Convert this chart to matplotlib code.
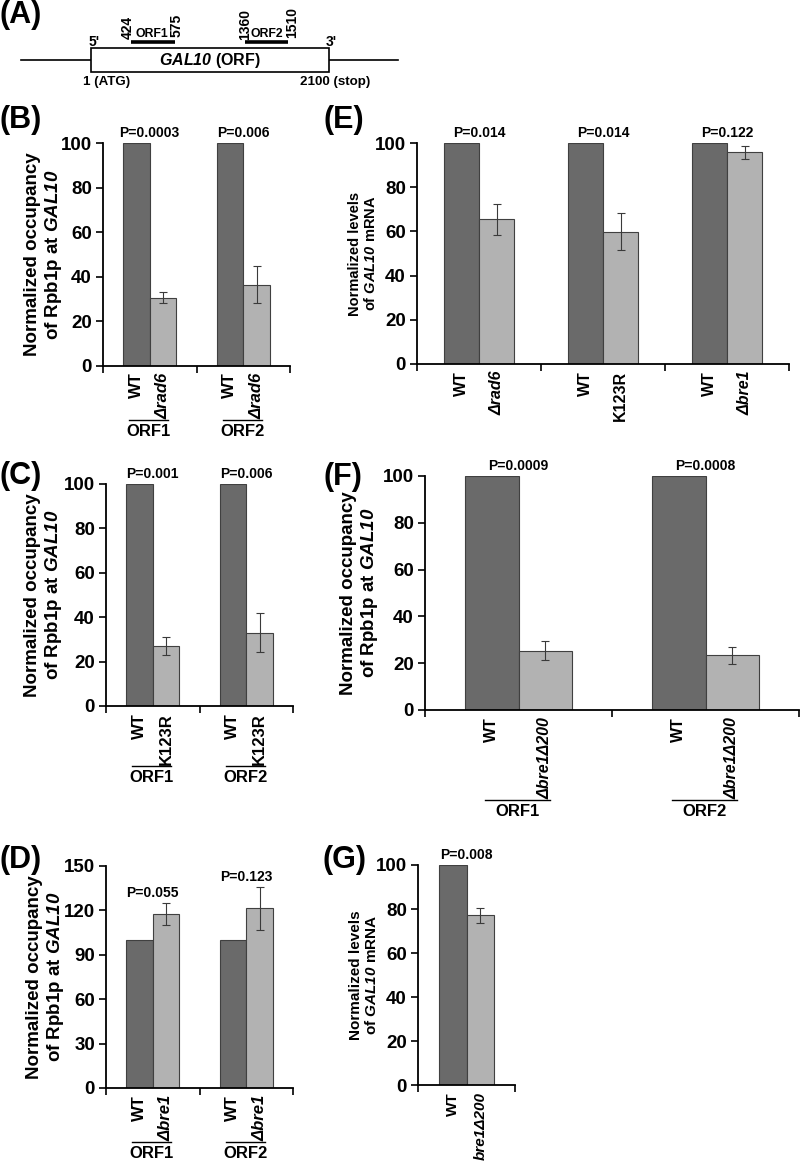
import matplotlib
matplotlib.use('Agg')
import matplotlib.pyplot as plt
from matplotlib.transforms import blended_transform_factory, ScaledTranslation
from matplotlib.patches import Rectangle
from matplotlib.lines import Line2D

plt.rcParams['font.family'] = ['Liberation Sans', 'DejaVu Sans']
plt.rcParams['font.weight'] = 'bold'
plt.rcParams['mathtext.fontset'] = 'custom'
plt.rcParams['mathtext.rm'] = 'Liberation Sans:bold'
plt.rcParams['mathtext.it'] = 'Liberation Sans:italic:bold'
plt.rcParams['mathtext.sf'] = 'Liberation Sans:italic:bold'
plt.rcParams['mathtext.bf'] = 'Liberation Sans:bold'

# ---------------- data ----------------
# Panel B
b_groups = ['ORF1', 'ORF2']
b_wt = [100, 100]
b_mut = [30.4, 36.2]
b_err = [2.5, 8.3]
b_p = ['P=0.0003', 'P=0.006']
b_ticklabels = [['WT', 'Δrad6'], ['WT', 'Δrad6']]
# Panel C
c_groups = ['ORF1', 'ORF2']
c_wt = [100, 100]
c_mut = [27.0, 33.1]
c_err = [4.2, 8.7]
c_p = ['P=0.001', 'P=0.006']
c_ticklabels = [['WT', 'K123R'], ['WT', 'K123R']]
# Panel D
d_groups = ['ORF1', 'ORF2']
d_wt = [100, 100]
d_mut = [117.5, 121.3]
d_err = [7.6, 14.3]
d_p = ['P=0.055', 'P=0.123']
d_ticklabels = [['WT', 'Δbre1'], ['WT', 'Δbre1']]
# Panel E
e_wt = [100, 100, 100]
e_mut = [65.5, 59.8, 95.8]
e_err = [7.0, 8.4, 2.9]
e_p = ['P=0.014', 'P=0.014', 'P=0.122']
e_ticklabels = [['WT', 'Δrad6'], ['WT', 'K123R'], ['WT', 'Δbre1']]
# Panel F
f_groups = ['ORF1', 'ORF2']
f_wt = [100, 100]
f_mut = [25.4, 23.3]
f_err = [4.1, 3.8]
f_p = ['P=0.0009', 'P=0.0008']
f_ticklabels = [['WT', 'Δbre1Δ200'], ['WT', 'Δbre1Δ200']]
# Panel G
g_wt = [100]
g_mut = [77.1]
g_err = [3.5]
g_p = ['P=0.008']
g_ticklabels = [['WT', 'bre1Δ200']]

ylabel_occ = 'Normalized occupancy\nof Rpb1p at $\\mathsf{GAL10}$'
ylabel_mrna = 'Normalized levels\nof $\\mathsf{GAL10}$ mRNA'

# ---------------- figure ----------------
W, H, DPI = 800, 1162, 100
fig = plt.figure(figsize=(W / DPI, H / DPI), dpi=DPI)

WT_COLOR = '#6a6a6a'
MUT_COLOR = '#b2b2b2'
EDGE = '#404040'
BW = 0.285

group_jobs = []


def add_ax(l, t, r, b):
    return fig.add_axes([l / W, 1 - b / H, (r - l) / W, (b - t) / H])


def panel(box, wt, mut, err, pvals, ticklabels, ymax, ystep, ylabel, ylab_x, ylab_size,
          xlab_size=12, groups=None):
    l, t, r, b = box
    ax = add_ax(l, t, r, b)
    n = len(wt)
    gpx = (r - l) / n
    xs = list(range(n))
    xw = [x - BW / 2 for x in xs]
    xm = [x + BW / 2 for x in xs]
    ax.bar(xw, wt, width=BW, color=WT_COLOR, edgecolor=EDGE, linewidth=0.8, zorder=2)
    ax.bar(xm, mut, width=BW, color=MUT_COLOR, edgecolor=EDGE, linewidth=0.8, zorder=2)
    ax.errorbar(xm, mut, yerr=err, fmt='none', ecolor='#3a3a3a', elinewidth=0.8,
                capsize=3, capthick=0.8, zorder=3)
    ax.set_xlim(-0.5, n - 0.5)
    ax.set_ylim(0, ymax)
    ax.set_yticks(list(range(0, ymax + 1, ystep)))
    for s in ['top', 'right']:
        ax.spines[s].set_visible(False)
    for s in ['left', 'bottom']:
        ax.spines[s].set_linewidth(1.3)
    ax.tick_params(axis='y', direction='out', length=5, width=1.2, labelsize=13.5, pad=3)
    pos, labs, ital = [], [], []
    for i in xs:
        pos += [xw[i], xm[i]]
        labs += ticklabels[i]
        ital += [False, ticklabels[i][1] != 'K123R']
    ax.set_xticks(pos)
    ax.set_xticklabels(labs, rotation=90, fontsize=xlab_size, fontweight='bold')
    for tl, it in zip(ax.get_xticklabels(), ital):
        if it:
            tl.set_fontstyle('italic')
    ax.tick_params(axis='x', which='major', length=0, pad=5)
    ax.set_xticks([x - 0.5 for x in range(n + 1)], minor=True)
    ax.tick_params(axis='x', which='minor', direction='out', length=5, width=1.2)
    for i in xs:
        top = max(wt[i], mut[i] + err[i])
        ax.annotate(pvals[i], xy=(i, top), xytext=(0, 7.2), textcoords='offset points',
                    ha='center', va='center', fontsize=10, fontweight='bold',
                    annotation_clip=False)
    ax.text((ylab_x - l) / (r - l), 0.5, ylabel, transform=ax.transAxes, rotation=90,
            ha='center', va='center', fontsize=ylab_size, fontweight='bold',
            multialignment='center', linespacing=1.15)
    if groups is not None:
        group_jobs.append((ax, groups, xw, xm, gpx))
    return ax


panel((103, 143, 290, 365.5), b_wt, b_mut, b_err, b_p, b_ticklabels, 100, 20,
      ylabel_occ, 44, 13.5, 12, b_groups)
panel((417, 143, 789, 364), e_wt, e_mut, e_err, e_p, e_ticklabels, 100, 20,
      ylabel_mrna, 363, 10.5, 11.5)
panel((106, 484, 293, 706), c_wt, c_mut, c_err, c_p, c_ticklabels, 100, 20,
      ylabel_occ, 44, 13.5, 12, c_groups)
panel((425, 476, 799, 710), f_wt, f_mut, f_err, f_p, f_ticklabels, 100, 20,
      ylabel_occ, 360, 13.5, 11.5, f_groups)
panel((106, 866, 293, 1088), d_wt, d_mut, d_err, d_p, d_ticklabels, 150, 30,
      ylabel_occ, 46, 13.5, 12, d_groups)
panel((418, 865, 515, 1085), g_wt, g_mut, g_err, g_p, g_ticklabels, 100, 20,
      ylabel_mrna, 364, 11, 11)

# group underlines and ORF names, placed just below the rotated tick labels
fig.canvas.draw()
renderer = fig.canvas.get_renderer()
for ax, groups, xw, xm, gpx in group_jobs:
    tls = ax.get_xticklabels()
    bottom_px = min(tl.get_window_extent(renderer).y0 for tl in tls)
    yfrac = ax.transAxes.inverted().transform((0, bottom_px - 1))[1]
    base = blended_transform_factory(ax.transData, ax.transAxes)
    tt_ = base + ScaledTranslation(0, -4 / DPI, fig.dpi_scale_trans)
    for i in range(len(groups)):
        x0 = xw[i] - 7 / gpx
        x1 = xm[i] + 5 / gpx
        ax.add_line(Line2D([x0, x1], [yfrac, yfrac], transform=base, color='black',
                           linewidth=1.0, clip_on=False))
        ax.text((x0 + x1) / 2, yfrac, groups[i], transform=tt_, ha='center', va='top',
                fontsize=12, fontweight='bold')

# panel letters
letters = ['(A)', '(B)', '(E)', '(C)', '(F)', '(D)', '(G)']
letter_pos = [(21, 15), (21, 120), (344, 120), (21, 476), (343, 477), (21, 860), (344, 860)]
for s, (x, y) in zip(letters, letter_pos):
    fig.text(x / W, 1 - y / H, s, ha='center', va='center', fontsize=22, fontweight='bold')

# ---------------- panel A: gene schematic ----------------
axA = fig.add_axes([0, 1 - 92 / H, 400 / W, 92 / H])
axA.set_xlim(0, 400)
axA.set_ylim(92, 0)
axA.axis('off')
gene_line = (21, 398, 60)
gene_box = (91, 48, 329, 72)
orf_bars = [(131, 175, 42), (245, 288, 42)]
axA.plot([gene_line[0], gene_line[1]], [gene_line[2], gene_line[2]], color='black', lw=1.2)
axA.add_patch(Rectangle((gene_box[0], gene_box[1]), gene_box[2] - gene_box[0],
                        gene_box[3] - gene_box[1], facecolor='white', edgecolor='black',
                        lw=1.2, zorder=3))
for x0, x1, y in orf_bars:
    axA.plot([x0, x1], [y, y], color='black', lw=2.6, solid_capstyle='butt')
axA.text(210, 60, '$\\mathsf{GAL10}$ (ORF)', ha='center', va='center', fontsize=11.5,
         fontweight='bold', zorder=4)
axA.text(94, 42, "5'", ha='center', va='center', fontsize=10, fontweight='bold')
axA.text(331, 42, "3'", ha='center', va='center', fontsize=10, fontweight='bold')
axA.text(107, 82, '1 (ATG)', ha='center', va='center', fontsize=9.6, fontweight='bold')
axA.text(335, 82, '2100 (stop)', ha='center', va='center', fontsize=9.6, fontweight='bold')
axA.text(152, 34, 'ORF1', ha='center', va='center', fontsize=8.8, fontweight='bold')
axA.text(267, 34, 'ORF2', ha='center', va='center', fontsize=8.8, fontweight='bold')
for s, x, y in [('424', 128, 27), ('575', 177, 25), ('1360', 245, 24), ('1510', 292, 23)]:
    axA.text(x, y, s, ha='center', va='center', rotation=90, fontsize=10, fontweight='bold')

fig.savefig('out.png', dpi=DPI)
